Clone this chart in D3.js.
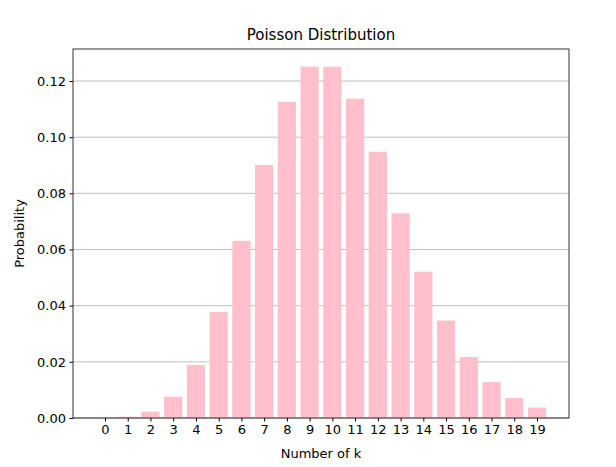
<!DOCTYPE html>
<html><head><meta charset="utf-8">
<script src="https://cdn.jsdelivr.net/npm/d3@7"></script>
<style>body{margin:0;background:#fff}text{font-family:"DejaVu Sans",sans-serif}</style>
</head><body>
<script>
var ks = d3.range(0, 20);
var probs = [0.0000454, 0.000454, 0.00227, 0.00757, 0.0189, 0.0378, 0.0631, 0.0901, 0.1126, 0.1251,
             0.1251, 0.1137, 0.0948, 0.0729, 0.0521, 0.0347, 0.0217, 0.0128, 0.0071, 0.0037];
var yTicks = [0, 0.02, 0.04, 0.06, 0.08, 0.10, 0.12];

var svg = d3.select("body").append("svg").attr("width", 616).attr("height", 467);
var mLeft = 73, mRight = 569, mTop = 49, mBottom = 418;
var x = d3.scaleLinear().domain([-1.407, 20.407]).range([mLeft, mRight]);
var y = d3.scaleLinear().domain([0, 0.1314]).range([mBottom, mTop]);

svg.append("g").selectAll("line").data(yTicks).enter().append("line")
    .attr("x1", mLeft).attr("x2", mRight)
    .attr("y1", function (d) { return y(d); }).attr("y2", function (d) { return y(d); })
    .attr("stroke", "#b0b0b0").attr("stroke-width", 0.8);

svg.append("g").selectAll("rect").data(probs).enter().append("rect")
    .attr("x", function (d, i) { return x(ks[i] - 0.4); })
    .attr("width", x(0.8) - x(0))
    .attr("y", function (d) { return y(d); })
    .attr("height", function (d) { return mBottom - y(d); })
    .attr("fill", "#ffc0cb");

function styleAxis(g) {
    g.select(".domain").remove();
    g.selectAll("text").attr("font-size", 13).attr("fill", "#000").style("font-family", "DejaVu Sans");
}

svg.append("g").attr("transform", "translate(0," + mBottom + ")")
    .call(d3.axisBottom(x).tickValues(ks).tickFormat(d3.format("d")).tickSize(3.5).tickPadding(3.5))
    .call(styleAxis);
svg.append("g").attr("transform", "translate(" + mLeft + ",0)")
    .call(d3.axisLeft(y).tickValues(yTicks).tickFormat(d3.format(".2f")).tickSize(3.5).tickPadding(3.5))
    .call(styleAxis);

svg.append("rect").attr("x", mLeft).attr("y", mTop).attr("width", mRight - mLeft).attr("height", mBottom - mTop)
    .attr("fill", "none").attr("stroke", "#000").attr("stroke-width", 0.8);

svg.append("text").attr("x", (mLeft + mRight) / 2).attr("y", 40).attr("text-anchor", "middle")
    .attr("font-size", 15).text("Poisson Distribution");
svg.append("text").attr("x", (mLeft + mRight) / 2).attr("y", 458).attr("text-anchor", "middle")
    .attr("font-size", 13).text("Number of k");
svg.append("text").attr("transform", "translate(24," + (mTop + mBottom) / 2 + ") rotate(-90)")
    .attr("text-anchor", "middle").attr("font-size", 13).text("Probability");
</script>
</body></html>
